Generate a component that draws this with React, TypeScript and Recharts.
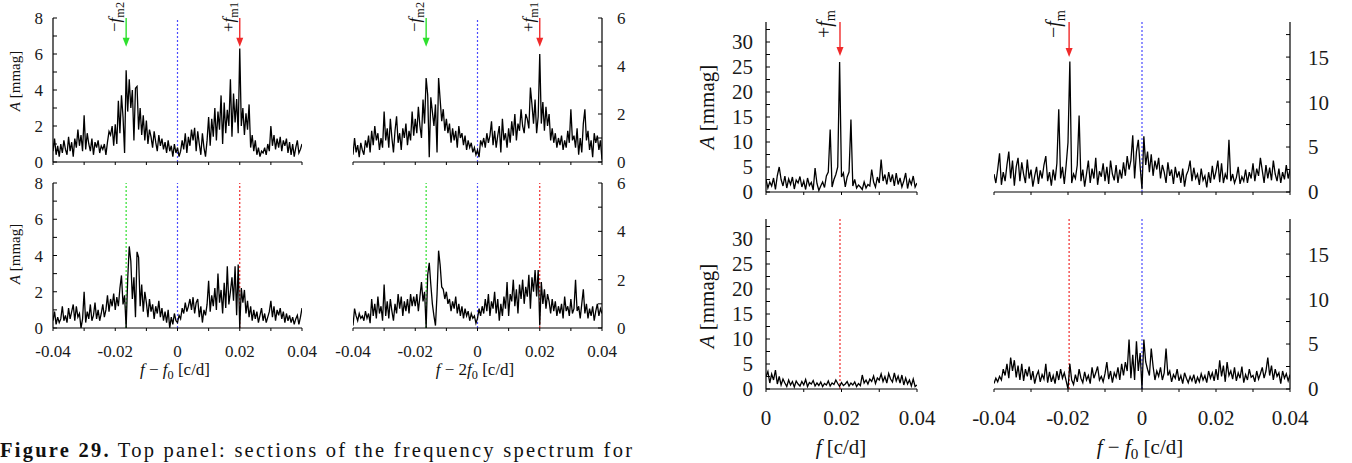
import React from 'react';
import { LineChart, Line, XAxis, YAxis, ReferenceLine } from 'recharts';

// ---------- frequency grids ----------
const F_STEP = 0.0005;
const F_START_SYM = -0.04; // f - f0 panels
const F_START_POS = 0; // f panels

// ---------- tick values & labels ----------
const xTicksSym = [-0.04, -0.03, -0.02, -0.01, 0, 0.01, 0.02, 0.03, 0.04];
const xLabelsSym = ['-0.04', '', '-0.02', '', '0', '', '0.02', '', '0.04'];
const xLabelsNone = ['', '', '', '', '', '', '', '', ''];
const xTicksPos = [0, 0.01, 0.02, 0.03, 0.04];
const xLabelsPos = ['0', '', '0.02', '', '0.04'];
const xLabelsPosNone = ['', '', '', '', ''];
const yTicks8 = [0, 1, 2, 3, 4, 5, 6, 7, 8];
const yLabels8 = ['0', '', '2', '', '4', '', '6', '', '8'];
const yTicks6 = [0, 1, 2, 3, 4, 5, 6];
const yLabels6 = ['0', '', '2', '', '4', '', '6'];
const yTicks34 = [0, 2.5, 5, 7.5, 10, 12.5, 15, 17.5, 20, 22.5, 25, 27.5, 30, 32.5];
const yLabels34 = ['0', '', '5', '', '10', '', '15', '', '20', '', '25', '', '30', ''];
const yTicks19 = [0, 2.5, 5, 7.5, 10, 12.5, 15, 17.5];
const yLabels19 = ['0', '', '5', '', '10', '', '15', ''];

// ---------- marker frequencies ----------
const fM2 = -0.0165;
const fM1 = 0.02;
const fMright = 0.0196;
const fMrightNeg = -0.0197;

// ---------- amplitudes [mmag] ----------
// top-left: f - f0, original data
const ampTL = [
  0.6,1.3,0.4,0.9,0.3,1.0,0.5,1.2,0.7,0.4,
  1.4,0.6,1.1,0.3,1.3,0.8,1.8,0.9,1.5,0.6,
  2.6,0.7,1.6,1.0,0.6,1.3,0.4,1.1,0.8,1.2,
  0.5,0.9,0.7,1.0,0.4,1.1,1.7,1.5,2.0,0.9,
  2.1,1.0,3.4,1.6,3.7,2.5,0.5,5.1,2.8,4.6,
  3.0,4.0,1.2,4.1,4.2,1.8,3.0,1.5,2.6,1.2,
  2.3,1.0,1.8,1.4,0.8,1.7,1.1,0.6,1.5,0.9,
  1.3,0.7,1.1,0.5,1.2,0.6,0.9,0.3,1.0,0.5,
  0.8,0.3,0.6,1.2,0.7,1.6,0.5,1.4,0.9,1.8,
  1.2,1.9,0.6,1.7,1.0,0.4,1.6,0.8,0.3,1.2,
  2.5,0.9,2.4,1.4,3.0,1.2,2.8,1.8,3.7,1.0,
  3.3,1.6,2.9,2.0,4.6,1.4,3.8,2.2,3.5,1.6,
  6.3,2.0,3.0,1.5,2.7,1.8,3.2,0.8,1.5,0.6,
  1.2,0.4,0.8,0.3,0.6,0.5,0.8,0.4,1.0,0.6,
  2.0,0.9,1.5,0.7,1.3,0.8,1.4,0.6,1.2,0.9,
  1.3,0.5,1.1,0.4,1.0,0.3,0.8,1.2,0.5,0.7,
  1.0,
];
// bottom-left: f - f0, prewhitened
const ampBL = [
  0.4,0.9,0.2,0.6,0.3,0.5,1.2,0.4,0.7,0.3,
  1.1,0.5,0.9,1.3,0.4,1.2,0.6,0.8,0.0,0.5,
  2.0,0.3,0.9,0.5,1.3,0.4,0.7,1.4,0.5,1.0,
  0.4,0.8,1.3,0.6,1.0,1.8,0.9,1.6,1.2,1.9,
  1.0,1.7,1.2,2.2,2.9,1.3,1.8,0.0,2.7,4.5,
  3.7,1.6,2.8,0.6,4.2,3.9,1.2,2.4,0.9,2.0,
  1.4,0.6,1.6,0.9,1.3,0.5,1.2,0.8,1.5,0.6,
  1.1,0.4,0.9,0.3,1.0,0.0,0.6,0.2,0.8,0.4,
  0.3,0.7,0.5,1.1,0.8,1.4,0.9,1.2,1.6,1.0,
  1.7,0.8,1.4,1.6,0.6,1.2,0.3,1.0,0.7,1.3,
  2.6,0.9,1.8,1.2,2.2,1.0,3.0,1.4,2.1,0.8,
  2.5,1.1,3.4,1.3,2.0,2.8,1.5,3.4,0.7,3.5,
  0.0,2.2,1.4,2.1,0.8,1.5,0.6,1.2,0.4,1.0,
  0.5,0.9,0.3,0.7,1.1,0.4,0.8,0.3,0.6,0.9,
  1.5,0.6,1.2,0.4,1.0,0.7,1.1,0.5,0.9,0.3,
  0.8,0.4,0.7,0.3,0.6,0.2,0.5,0.7,0.2,0.6,
  1.1,
];
// top-middle: f - 2f0, original data
const ampTM = [
  0.3,1.0,0.4,0.7,0.2,0.8,0.5,0.3,0.9,0.6,
  1.1,0.4,1.3,0.7,1.5,0.9,1.2,0.5,1.0,0.6,
  2.1,0.9,1.4,0.6,1.8,1.0,0.4,1.3,1.9,0.8,
  1.2,0.5,1.4,1.0,1.6,0.7,1.3,0.9,2.1,1.1,
  1.8,1.2,2.3,1.5,1.0,2.6,1.6,3.5,2.8,0.2,
  2.7,2.1,1.5,2.4,0.4,3.5,2.6,1.7,2.2,1.3,
  1.8,1.2,1.6,0.8,1.4,0.9,1.3,0.6,1.5,1.0,
  1.2,0.7,1.1,0.5,0.9,0.6,0.8,0.4,0.6,0.3,
  0.5,0.2,0.9,0.7,1.0,0.6,1.2,0.8,1.1,1.7,
  0.7,1.3,0.6,1.1,1.5,0.4,1.8,0.9,1.2,0.6,
  1.4,0.8,1.7,1.1,2.0,0.9,1.6,1.3,2.2,1.5,
  1.2,2.0,1.8,1.4,3.1,2.4,1.6,2.6,1.2,1.9,
  4.5,1.6,2.5,1.3,2.3,1.5,2.0,0.9,1.4,0.8,
  1.2,0.6,1.0,0.7,1.1,0.5,0.9,0.6,1.3,0.8,
  2.2,0.9,1.1,0.6,1.4,0.3,1.0,0.4,1.6,2.2,
  0.9,1.3,0.5,0.9,0.2,1.2,0.8,1.1,0.5,0.9,
  0.1,
];
// bottom-middle: f - 2f0, prewhitened
const ampBM = [
  0.1,0.8,0.5,0.3,0.6,0.4,0.5,0.3,0.7,0.4,
  0.6,0.2,1.2,0.5,1.0,0.4,1.3,0.6,0.9,0.3,
  1.8,0.5,1.1,0.4,1.2,0.7,0.3,1.0,0.6,1.4,
  0.8,1.3,0.5,1.1,0.7,1.2,0.6,1.4,0.9,1.3,
  0.9,1.4,0.7,1.3,1.9,1.1,1.5,0.0,2.2,2.7,
  1.8,1.0,0.5,0.1,1.4,3.2,2.6,1.7,1.6,1.2,
  1.5,1.0,1.2,0.7,1.1,0.8,1.3,0.6,1.0,0.5,
  0.9,0.4,0.8,0.5,0.7,0.3,0.6,0.4,0.5,0.2,
  0.4,0.8,0.5,0.9,0.6,1.2,0.7,1.4,0.5,1.1,
  0.8,1.5,0.6,1.2,0.3,1.0,0.5,1.3,0.8,1.9,
  0.5,1.4,1.1,2.0,0.9,1.6,0.6,1.8,1.2,2.0,
  1.0,1.7,1.3,2.2,0.8,2.1,1.5,2.4,1.3,2.4,
  0.1,1.9,1.0,1.6,0.8,1.4,1.1,0.6,1.2,0.7,
  1.1,0.5,0.9,0.6,1.0,0.4,1.3,0.7,0.9,0.5,
  1.2,0.6,0.8,2.0,0.7,0.9,0.4,1.0,1.6,0.6,
  1.0,0.4,0.8,0.5,0.9,0.3,0.7,1.0,0.5,0.8,
  0.6,
];
// right group, top-left: f, original data
const ampRTL = [
  2.5,0.8,2.0,1.2,2.8,0.5,3.3,5.0,2.5,1.2,
  3.2,0.8,2.6,1.5,3.0,0.6,2.4,1.8,3.1,1.0,
  2.2,0.5,2.8,1.3,1.9,0.4,4.8,1.7,0.3,1.2,
  2.0,0.9,3.2,4.0,12.5,1.0,2.5,3.5,5.0,26.0,
  3.0,3.8,1.0,3.0,4.0,14.5,1.2,2.5,0.8,1.4,
  1.0,0.5,2.0,0.8,1.5,1.2,4.5,2.0,1.0,3.0,
  1.8,6.5,2.2,3.5,1.5,4.0,2.0,3.5,1.2,3.8,
  1.5,2.8,1.0,2.2,3.8,0.7,2.5,1.5,3.2,1.0,
  1.8,
];
// right group, bottom-left: f, prewhitened
const ampRBL = [
  2.5,3.5,1.2,3.0,1.8,3.8,1.0,2.5,0.8,2.0,
  1.2,0.5,1.8,0.8,1.5,0.4,1.6,1.0,0.6,1.5,
  0.8,1.9,0.5,1.3,1.0,1.7,0.6,1.2,0.7,1.4,
  0.5,1.1,0.8,1.6,0.6,1.2,0.9,1.8,1.1,0.5,
  1.3,0.7,1.0,1.5,0.6,1.2,0.8,1.4,0.5,1.1,
  0.7,2.8,1.2,1.8,1.0,2.0,1.5,2.6,1.1,2.2,
  1.8,3.0,1.5,2.5,1.2,3.1,2.0,1.4,3.2,1.6,
  2.6,1.2,2.8,0.8,2.2,1.0,1.8,0.6,2.0,0.5,
  0.8,
];
// right group, top-right: f - f0, original data
const ampRTR = [
  2.0,1.0,2.5,4.3,0.8,2.2,1.2,3.0,4.5,1.5,
  3.5,0.7,2.8,3.8,1.2,3.3,2.0,1.0,3.6,1.5,
  2.5,0.6,1.8,2.8,0.9,2.4,1.5,3.0,4.0,1.2,
  2.2,0.7,2.5,1.3,3.2,9.2,1.5,2.8,0.9,3.0,
  5.5,14.5,1.0,2.0,1.5,3.0,8.5,1.2,2.5,0.6,
  2.0,3.5,1.0,2.6,1.5,3.8,0.8,2.3,1.7,3.2,
  1.2,2.8,0.9,3.5,2.0,1.3,3.0,1.0,2.5,1.5,
  3.3,1.8,4.0,2.5,3.5,6.3,1.5,4.5,5.8,2.8,
  0.3,6.2,3.0,4.5,2.2,4.2,1.8,3.5,2.5,3.8,
  1.5,3.0,2.2,1.0,3.3,1.8,2.5,0.9,2.8,1.6,
  2.3,1.0,2.6,0.6,1.9,2.4,3.5,1.2,2.7,1.5,
  2.0,0.8,2.6,1.3,1.8,0.5,2.2,1.0,2.9,1.4,
  2.3,3.5,1.1,3.2,1.0,2.0,1.4,5.8,1.2,2.0,
  1.0,1.6,2.8,0.9,1.7,1.2,2.5,1.0,2.2,1.5,
  3.2,1.2,2.6,1.8,3.8,2.4,1.0,3.0,1.5,2.7,
  1.3,3.5,2.0,1.2,2.6,1.0,2.2,1.4,3.0,1.5,
  2.5,
];
// right group, bottom-right: f - f0, prewhitened
const ampRBR = [
  0.6,1.2,0.8,1.4,1.0,2.2,1.5,2.8,1.2,3.5,
  2.0,3.2,1.3,2.6,1.0,2.8,0.9,2.2,1.4,2.5,
  1.0,2.0,0.6,1.5,2.0,0.8,1.6,1.1,2.8,0.7,
  1.9,0.8,1.5,0.6,2.0,1.0,2.2,1.2,1.8,0.9,
  0.0,2.8,1.0,0.5,1.6,0.8,2.2,1.2,0.7,1.9,
  1.0,1.5,0.6,2.4,1.2,1.8,2.5,1.0,1.4,0.8,
  1.7,3.0,1.1,2.0,0.7,1.8,1.3,2.4,1.0,2.8,
  1.5,3.0,2.0,5.5,1.2,3.8,1.0,5.3,2.0,4.0,
  0.0,5.5,3.0,2.2,1.5,4.5,2.5,1.0,2.0,1.4,
  2.4,1.0,1.8,4.5,1.5,2.0,0.8,1.6,1.2,2.2,
  0.9,1.5,0.6,1.8,1.2,0.7,1.4,0.9,1.6,0.6,
  1.3,0.8,1.7,1.0,1.5,0.7,2.0,1.2,1.8,0.9,
  2.2,1.0,3.2,1.4,2.6,0.8,3.0,1.5,2.0,1.1,
  2.4,0.9,1.8,1.2,2.5,0.7,1.6,1.0,2.2,1.3,
  1.5,0.8,2.0,1.1,1.7,2.4,1.2,2.0,3.5,1.5,
  2.6,1.0,2.2,1.4,1.8,0.6,2.0,1.2,1.7,0.9,
  1.6,
];

const toRows = (start: number, vals: number[]) =>
  vals.map((a, i) => ({ f: +(start + i * F_STEP).toFixed(5), a }));

// ---------- styling ----------
const SERIF = 'Liberation Serif, Times New Roman, DejaVu Serif, serif';
const BLUE = '#4a4aff';
const GREEN = '#2ee02e';
const RED = '#f02a2a';

type RefL = { x: number; color: string };
type Arrow = { x: number; top: number; tip: number; color: string; sign: string; sub: string; fs: number; gap: number; lift: number };

interface PanelCfg {
  px: number; py: number; pw: number; ph: number;
  data: { f: number; a: number }[];
  xDomain: [number, number]; xTicks: number[]; xLabels: string[];
  yDomain: [number, number]; yTicks: number[]; yLabels: string[];
  side: 'left' | 'right';
  fs: number; xTickMargin: number; yTickMargin: number;
  refs: RefL[]; arrows: Arrow[];
}

const YW = 70;
const XH = 50;
const MT = 24;
const PAD = 30;

function makeArrowShape(a: Arrow) {
  return (p: any) => {
    const x = p.x1;
    const yTop = Math.min(p.y1, p.y2);
    const yTip = Math.max(p.y1, p.y2);
    return (
      <g>
        <line x1={x} y1={yTop} x2={x} y2={yTip - 6} stroke={a.color} strokeWidth={1.4} />
        <polygon points={`${x - 3.5},${yTip - 9} ${x + 3.5},${yTip - 9} ${x},${yTip}`} fill={a.color} />
        <text
          transform={`translate(${x - a.gap},${yTop - a.lift}) rotate(-90)`}
          textAnchor="end"
          style={{ fontFamily: SERIF }}
          fontSize={a.fs}
          fill="#111"
        >
          {a.sign}
          <tspan fontStyle="italic">f</tspan>
          <tspan fontSize={a.fs * 0.72} dy={a.fs * 0.22}>{a.sub}</tspan>
        </text>
      </g>
    );
  };
}

function Panel(c: PanelCfg) {
  const w = c.pw + YW + 2 * PAD;
  const h = c.ph + MT + XH;
  const left = c.side === 'left' ? c.px - YW - PAD : c.px - PAD;
  const tickStyle = { fontSize: c.fs, fill: '#1a1a1a', fontFamily: SERIF, style: { fontFamily: SERIF } };
  return (
    <div style={{ position: 'absolute', left, top: c.py - MT, width: w, height: h }}>
      <LineChart width={w} height={h} data={c.data} margin={{ top: MT, right: PAD, bottom: 0, left: PAD }}>
        <XAxis
          type="number"
          dataKey="f"
          domain={c.xDomain}
          ticks={c.xTicks}
          interval={0}
          allowDataOverflow
          height={XH}
          tickSize={3}
          tickMargin={c.xTickMargin}
          tickFormatter={(v: number) => c.xLabels[c.xTicks.indexOf(v)] ?? ''}
          tick={tickStyle}
          axisLine={{ stroke: '#000', strokeWidth: 1.2 }}
          tickLine={{ stroke: '#000' }}
        />
        <YAxis
          type="number"
          orientation={c.side}
          width={YW}
          domain={c.yDomain}
          ticks={c.yTicks}
          interval={0}
          allowDataOverflow
          tickSize={-4}
          tickMargin={c.yTickMargin}
          tickFormatter={(v: number) => c.yLabels[c.yTicks.indexOf(v)] ?? ''}
          tick={tickStyle}
          axisLine={{ stroke: '#000', strokeWidth: 1.2 }}
          tickLine={{ stroke: '#000' }}
        />
        {c.refs.map((r, i) => (
          <ReferenceLine key={'r' + i} x={r.x} stroke={r.color} strokeDasharray="2 2" strokeWidth={1.2} />
        ))}
        <Line type="linear" dataKey="a" stroke="#000" strokeWidth={1.3} dot={false} isAnimationActive={false} />
        {c.arrows.map((a, i) => (
          <ReferenceLine
            key={'a' + i}
            segment={[{ x: a.x, y: a.top }, { x: a.x, y: a.tip }]}
            stroke={a.color}
            shape={makeArrowShape(a)}
          />
        ))}
      </LineChart>
    </div>
  );
}

const symDomain: [number, number] = [-0.04, 0.04];
const posDomain: [number, number] = [0, 0.04];

const panels: PanelCfg[] = [
  {
    px: 53, py: 18, pw: 249, ph: 144, data: toRows(F_START_SYM, ampTL),
    xDomain: symDomain, xTicks: xTicksSym, xLabels: xLabelsNone,
    yDomain: [0, 8], yTicks: yTicks8, yLabels: yLabels8, side: 'left',
    fs: 17, xTickMargin: 14, yTickMargin: 14,
    refs: [{ x: 0, color: BLUE }],
    arrows: [
      { x: fM2, top: 8, tip: 6.4, color: GREEN, sign: '\u2212', sub: 'm2', fs: 17, gap: 6, lift: 16 },
      { x: fM1, top: 8, tip: 6.4, color: RED, sign: '+', sub: 'm1', fs: 17, gap: 6, lift: 16 },
    ],
  },
  {
    px: 53, py: 183, pw: 249, ph: 145, data: toRows(F_START_SYM, ampBL),
    xDomain: symDomain, xTicks: xTicksSym, xLabels: xLabelsSym,
    yDomain: [0, 8], yTicks: yTicks8, yLabels: yLabels8, side: 'left',
    fs: 17, xTickMargin: 14, yTickMargin: 14,
    refs: [{ x: fM2, color: GREEN }, { x: 0, color: BLUE }, { x: fM1, color: RED }],
    arrows: [],
  },
  {
    px: 353, py: 18, pw: 249, ph: 144, data: toRows(F_START_SYM, ampTM),
    xDomain: symDomain, xTicks: xTicksSym, xLabels: xLabelsNone,
    yDomain: [0, 6], yTicks: yTicks6, yLabels: yLabels6, side: 'right',
    fs: 17, xTickMargin: 14, yTickMargin: 19,
    refs: [{ x: 0, color: BLUE }],
    arrows: [
      { x: fM2, top: 6, tip: 4.8, color: GREEN, sign: '\u2212', sub: 'm2', fs: 17, gap: 6, lift: 16 },
      { x: fM1, top: 6, tip: 4.8, color: RED, sign: '+', sub: 'm1', fs: 17, gap: 6, lift: 16 },
    ],
  },
  {
    px: 353, py: 183, pw: 249, ph: 145, data: toRows(F_START_SYM, ampBM),
    xDomain: symDomain, xTicks: xTicksSym, xLabels: xLabelsSym,
    yDomain: [0, 6], yTicks: yTicks6, yLabels: yLabels6, side: 'right',
    fs: 17, xTickMargin: 14, yTickMargin: 19,
    refs: [{ x: fM2, color: GREEN }, { x: 0, color: BLUE }, { x: fM1, color: RED }],
    arrows: [],
  },
  {
    px: 766, py: 22, pw: 151, ph: 170, data: toRows(F_START_POS, ampRTL),
    xDomain: posDomain, xTicks: xTicksPos, xLabels: xLabelsPosNone,
    yDomain: [0, 34], yTicks: yTicks34, yLabels: yLabels34, side: 'left',
    fs: 21, xTickMargin: 18, yTickMargin: 17,
    refs: [],
    arrows: [
      { x: fMright, top: 34, tip: 27.2, color: RED, sign: '+', sub: 'm', fs: 20, gap: 9, lift: 12 },
    ],
  },
  {
    px: 994, py: 22, pw: 296, ph: 170, data: toRows(F_START_SYM, ampRTR),
    xDomain: symDomain, xTicks: xTicksSym, xLabels: xLabelsNone,
    yDomain: [0, 18.9], yTicks: yTicks19, yLabels: yLabels19, side: 'right',
    fs: 21, xTickMargin: 18, yTickMargin: 22,
    refs: [{ x: 0, color: BLUE }],
    arrows: [
      { x: fMrightNeg, top: 18.9, tip: 15, color: RED, sign: '\u2212', sub: 'm', fs: 20, gap: 9, lift: 12 },
    ],
  },
  {
    px: 766, py: 219, pw: 151, ph: 170, data: toRows(F_START_POS, ampRBL),
    xDomain: posDomain, xTicks: xTicksPos, xLabels: xLabelsPos,
    yDomain: [0, 34], yTicks: yTicks34, yLabels: yLabels34, side: 'left',
    fs: 21, xTickMargin: 18, yTickMargin: 17,
    refs: [{ x: fMright, color: RED }],
    arrows: [],
  },
  {
    px: 994, py: 219, pw: 296, ph: 170, data: toRows(F_START_SYM, ampRBR),
    xDomain: symDomain, xTicks: xTicksSym, xLabels: xLabelsSym,
    yDomain: [0, 18.9], yTicks: yTicks19, yLabels: yLabels19, side: 'right',
    fs: 21, xTickMargin: 18, yTickMargin: 22,
    refs: [{ x: fMrightNeg, color: RED }, { x: 0, color: BLUE }],
    arrows: [],
  },
];

function YTitle({ x, y, fs }: { x: number; y: number; fs: number }) {
  return (
    <text transform={`translate(${x},${y}) rotate(-90)`} textAnchor="middle" dominantBaseline="central" style={{ fontFamily: SERIF }} fontSize={fs} fill="#111">
      <tspan fontStyle="italic">A</tspan>{' [mmag]'}
    </text>
  );
}

function XTitle({ x, y, fs, mult }: { x: number; y: number; fs: number; mult: string }) {
  return (
    <text x={x} y={y} textAnchor="middle" style={{ fontFamily: SERIF }} fontSize={fs} fill="#111">
      <tspan fontStyle="italic">f</tspan>
      {' \u2212 ' + mult}
      <tspan fontStyle="italic">f</tspan>
      <tspan fontSize={fs * 0.72} dy={fs * 0.22}>0</tspan>
      <tspan dy={-fs * 0.22}>{' [c/d]'}</tspan>
    </text>
  );
}

export default function App() {
  return (
    <div style={{ position: 'absolute', left: 0, top: 0, width: 1352, height: 463, background: '#fff', overflow: 'hidden', fontFamily: SERIF }}>
      {panels.map((p, i) => (
        <Panel key={i} {...p} />
      ))}
      <svg width={1352} height={463} style={{ position: 'absolute', left: 0, top: 0, pointerEvents: 'none' }}>
        <YTitle x={15} y={81} fs={15} />
        <YTitle x={15} y={254} fs={15} />
        <YTitle x={707} y={107} fs={21} />
        <YTitle x={707} y={306} fs={21} />
        <XTitle x={175} y={375} fs={17} mult="" />
        <XTitle x={475} y={375} fs={17} mult="2" />
        <text x={841} y={454} textAnchor="middle" style={{ fontFamily: SERIF }} fontSize={21} fill="#111">
          <tspan fontStyle="italic">f</tspan>{' [c/d]'}
        </text>
        <XTitle x={1140} y={454} fs={21} mult="" />
        <text x={0} y={457} style={{ fontFamily: SERIF }} fontSize={20.5} fill="#111" textLength={632} lengthAdjust="spacing">
          <tspan fontWeight="bold">Figure 29.</tspan>
          {' Top panel: sections of the frequency spectrum for'}
        </text>
      </svg>
    </div>
  );
}
